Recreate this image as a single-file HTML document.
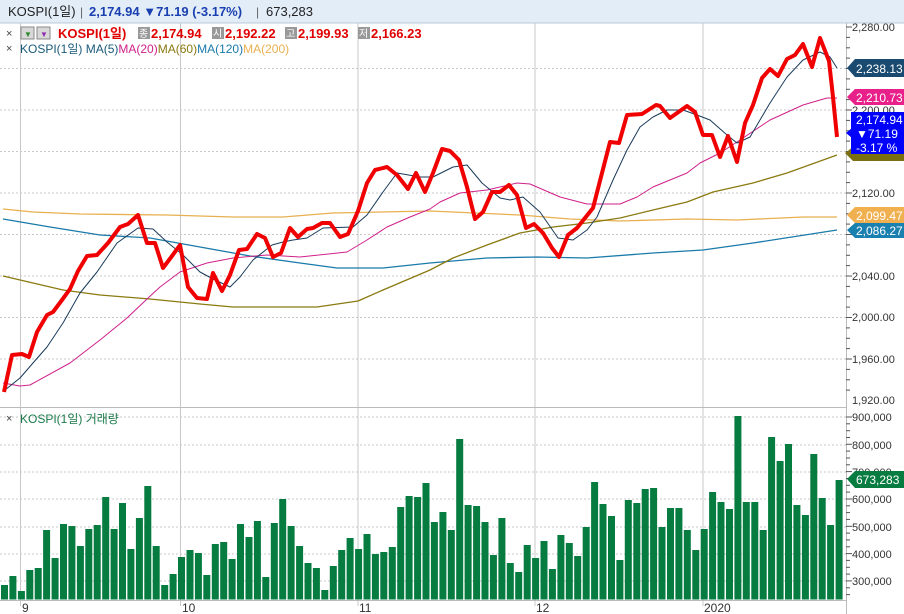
<!DOCTYPE html>
<html><head><meta charset="utf-8"><style>
body{margin:0;background:#fff;width:904px;height:614px;overflow:hidden;font-family:"Liberation Sans","Noto Sans CJK KR",sans-serif}
svg{display:block}
text{font-family:"Liberation Sans","Noto Sans CJK KR",sans-serif}
</style></head><body>
<svg width="904" height="614" viewBox="0 0 904 614" xmlns="http://www.w3.org/2000/svg">
<rect x="0" y="0" width="904" height="23" fill="#e3edf8"/>
<line x1="0" y1="23" x2="904" y2="23" stroke="#b8c8d8"/>
<text x="8" y="16" font-size="13" fill="#222">KOSPI(1일)</text>
<text x="80" y="16" font-size="12" fill="#666">|</text>
<text x="89" y="16" font-size="13" font-weight="bold" fill="#1a3fb0">2,174.94 ▼71.19 (-3.17%)</text>
<text x="256" y="16" font-size="12" fill="#666">|</text>
<text x="266" y="16" font-size="13" fill="#222">673,283</text>
<!-- grid price -->
<g stroke="#c8c8c8" stroke-dasharray="2,2">
<line x1="0" y1="68.5" x2="846" y2="68.5"/><line x1="0" y1="110" x2="846" y2="110"/><line x1="0" y1="151.5" x2="846" y2="151.5"/><line x1="0" y1="193" x2="846" y2="193"/><line x1="0" y1="234.5" x2="846" y2="234.5"/><line x1="0" y1="276" x2="846" y2="276"/><line x1="0" y1="317.5" x2="846" y2="317.5"/><line x1="0" y1="359" x2="846" y2="359"/>
<line x1="0" y1="417" x2="846" y2="417"/><line x1="0" y1="445" x2="846" y2="445"/><line x1="0" y1="472" x2="846" y2="472"/><line x1="0" y1="499" x2="846" y2="499"/><line x1="0" y1="527" x2="846" y2="527"/><line x1="0" y1="554" x2="846" y2="554"/><line x1="0" y1="581" x2="846" y2="581"/>
</g>
<g stroke="#c8c8c8"><line x1="20.5" y1="23" x2="20.5" y2="606"/><line x1="180.5" y1="23" x2="180.5" y2="606"/><line x1="358" y1="23" x2="358" y2="606"/><line x1="535" y1="23" x2="535" y2="606"/><line x1="703" y1="23" x2="703" y2="606"/></g>
<line x1="0" y1="407.5" x2="846" y2="407.5" stroke="#bbb"/>
<line x1="0" y1="600.5" x2="846" y2="600.5" stroke="#bbb"/>
<line x1="846.5" y1="23" x2="846.5" y2="614" stroke="#bbb"/>
<!-- legend -->
<text x="6" y="37" font-size="11" fill="#444">×</text>
<rect x="21" y="27" width="13" height="12" fill="#d8d8d8" stroke="#888"/><text x="24" y="37" font-size="8" fill="#2a8a2a">▼</text>
<rect x="37" y="27" width="13" height="12" fill="#d8d8d8" stroke="#888"/><text x="40" y="37" font-size="8" fill="#9030b0">▼</text>
<text x="58" y="38" font-size="13" font-weight="bold" fill="#e00000">KOSPI(1일)</text>
<rect x="138" y="27" width="12" height="12" fill="#999"/><text x="139" y="37" font-size="10" fill="#fff">종</text>
<text x="151" y="38" font-size="13" font-weight="bold" fill="#e00000">2,174.94</text>
<rect x="212" y="27" width="12" height="12" fill="#999"/><text x="213" y="37" font-size="10" fill="#fff">시</text>
<text x="225" y="38" font-size="13" font-weight="bold" fill="#e00000">2,192.22</text>
<rect x="285" y="27" width="12" height="12" fill="#999"/><text x="286" y="37" font-size="10" fill="#fff">고</text>
<text x="298" y="38" font-size="13" font-weight="bold" fill="#e00000">2,199.93</text>
<rect x="358" y="27" width="12" height="12" fill="#999"/><text x="359" y="37" font-size="10" fill="#fff">저</text>
<text x="371" y="38" font-size="13" font-weight="bold" fill="#e00000">2,166.23</text>
<text x="6" y="52" font-size="11" fill="#444">×</text>
<text x="20" y="53" font-size="12"><tspan fill="#1a5a7a">KOSPI(1일) MA(5)</tspan><tspan fill="#d0208a">MA(20)</tspan><tspan fill="#8a7a10">MA(60)</tspan><tspan fill="#1a7aaa">MA(120)</tspan><tspan fill="#e8b050">MA(200)</tspan></text>
<text x="6" y="422" font-size="11" fill="#444">×</text>
<text x="20" y="423" font-size="12" fill="#1a7a4a">KOSPI(1일) 거래량</text>
<!-- volume bars -->
<g fill="#067c40" id="vb"></g>
<!-- MA lines -->
<g fill="none" stroke-linejoin="round">
<polyline stroke="#e8b050" stroke-width="1.3" points="3,209 33,212 80,214 167,215 233,217 283,217 333,213 430,211 520,215 570,219 620,221 687,219 737,220 803,217 837,217"/>
<polyline stroke="#1a7aaa" stroke-width="1.3" points="3,219 50,227 100,235 150,238 200,247 250,256 300,263 337,268 383,268 430,263 487,258 537,257 587,258 653,253 703,250 753,243 837,230"/>
<polyline stroke="#8a7a10" stroke-width="1.3" points="3,276 33,283 63,290 100,295 150,299 200,304 233,307 283,307 317,307 358,301 383,290 430,270 453,258 487,245 520,233 553,227 587,223 620,218 653,210 687,202 713,192 753,183 787,173 837,155"/>
<polyline stroke="#d0208a" stroke-width="1" points="3,383 20,386 30,385 70,363 100,340 127,318 147,299 160,287 180,272 207,263 233,258 267,255 300,257 347,252 367,240 387,227 410,217 430,209 440,202 460,193 487,190 517,183 530,184 560,197 587,204 620,204 637,197 653,187 687,173 700,163 720,153 737,142 770,120 803,105 827,98 837,98"/>
<polyline stroke="#1a3a5a" stroke-width="1" points="5,390 20,378 33,363 47,347 63,323 80,293 97,272 117,243 138,228 153,229 167,242 183,255 200,272 213,279 230,287 240,277 253,260 272,245 283,242 293,240 307,238 323,228 353,227 367,215 383,192 397,173 420,177 433,177 453,167 467,165 482,183 500,198 510,200 523,197 540,212 558,238 573,240 587,230 597,217 613,180 627,150 640,127 653,117 667,110 683,110 697,115 710,120 727,135 737,143 750,137 770,103 787,77 803,60 820,52 830,57 837,68"/>
<polyline stroke="#f00000" stroke-width="4" points="4,392 12,355 22,354 29,357 37,332 47,315 53,312 62,300 70,289 78,271 87,256 97,255 108,243 120,227 128,224 138,215 147,243 155,243 163,268 172,256 180,245 188,287 197,298 207,299 213,273 222,291 230,275 239,250 247,249 257,234 265,238 273,257 281,253 290,228 298,237 307,229 313,228 322,223 330,223 340,237 348,234 358,211 367,183 375,170 387,167 397,175 408,189 416,173 425,192 433,173 442,149 450,151 459,160 467,187 475,219 483,212 492,192 500,192 509,185 517,195 526,228 534,224 543,233 552,248 559,257 568,235 577,228 585,218 593,208 602,173 610,142 619,143 627,115 642,114 656,105 660,106 670,118 687,106 695,112 703,135 712,135 720,157 728,136 737,162 745,123 753,105 762,78 770,69 778,76 787,59 795,55 803,44 812,67 820,38 829,61 833,97 837,137"/>
</g>
<!-- right axis -->
<g font-size="11" fill="#333">
<text x="852" y="31">2,280.00</text><text x="852" y="114">2,200.00</text><text x="852" y="197">2,120.00</text><text x="852" y="280">2,040.00</text><text x="852" y="321">2,000.00</text><text x="852" y="363">1,960.00</text><text x="852" y="404">1,920.00</text>
<text x="852" y="421">900,000</text><text x="852" y="449">800,000</text><text x="852" y="476">700,000</text><text x="852" y="503">600,000</text><text x="852" y="531">500,000</text><text x="852" y="558">400,000</text><text x="852" y="585">300,000</text>
</g>
<g id="ticks" stroke="#555"></g>
<!-- tags -->
<polygon points="848,90 856,81 904,81 904,101 856,101" fill="#0000ff" opacity="0"/>
<polygon points="845,153 853,147 904,147 904,161 853,161" fill="#7a7010"/>
<polygon points="847,68 855,59 904,59 904,77 855,77" fill="#1a4a70"/>
<text x="856" y="73" font-size="12" fill="#fff">2,238.13</text>
<polygon points="847,97 855,89 904,89 904,105 855,105" fill="#e8208a"/>
<text x="856" y="102" font-size="12" fill="#fff">2,210.73</text>
<rect x="851" y="112" width="53" height="42" fill="#0000ff"/>
<polygon points="846,133 852,128 852,138" fill="#0000ff"/>
<text x="856" y="124" font-size="12" fill="#fff">2,174.94</text>
<text x="856" y="138" font-size="12" fill="#fff">▼71.19</text>
<text x="856" y="152" font-size="12" fill="#fff">-3.17 %</text>
<polygon points="847,215 855,207 904,207 904,223 855,223" fill="#f0b050"/>
<text x="856" y="220" font-size="12" fill="#fff">2,099.47</text>
<polygon points="847,230 855,223 904,223 904,238 855,238" fill="#1a80b0"/>
<text x="856" y="235" font-size="12" fill="#fff">2,086.27</text>
<polygon points="847,479 855,471 904,471 904,488 855,488" fill="#067c40"/>
<text x="856" y="484" font-size="12" fill="#fff">673,283</text>
<!-- x labels -->
<g font-size="12" fill="#333"><text x="22" y="612">9</text><text x="182" y="612">10</text><text x="359" y="612">11</text><text x="536" y="612">12</text><text x="704" y="612">2020</text></g>
</svg>
<script>
var t=[555,528,573,510,504,390,474,372,378,438,387,375,291,387,309,447,354,258,438,555,522,471,450,459,525,432,426,477,372,411,363,531,369,297,378,438,489,504,570,498,450,414,447,402,462,456,441,321,288,291,
249,366,336,390,117,315,318,366,465,354,489,516,435,474,423,507,405,429,468,381,246,312,348,480,300,309,267,264,381,324,324,390,450,387,276,306,327,48,306,306,390,111,183,132,315,345,162,294,375,240];
var g=document.getElementById('vb'),s='';
for(var i=0;i<t.length;i++){var x=1+i*8.43,y=400+t[i]/3;s+='<rect x="'+x.toFixed(1)+'" y="'+y.toFixed(1)+'" width="7" height="'+(599.5-y).toFixed(1)+'"/>';}
g.innerHTML=s;
var k=document.getElementById('ticks'),u='';
for(var v=27;v<=400;v+=10.375){u+='<line x1="846" y1="'+v.toFixed(1)+'" x2="'+(((Math.round((v-27)/10.375))%4==0)?852:850)+'" y2="'+v.toFixed(1)+'"/>';}
for(var w=417;w<=600;w+=6.83){u+='<line x1="846" y1="'+w.toFixed(1)+'" x2="'+((Math.round((w-417)/6.83)%4==0)?852:850)+'" y2="'+w.toFixed(1)+'"/>';}
k.innerHTML=u;
</script>
</body></html>
